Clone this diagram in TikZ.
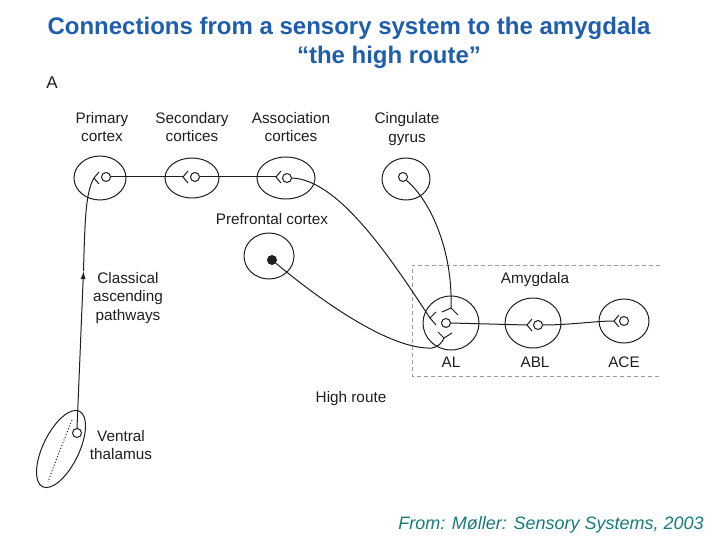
\documentclass[tikz,border=0pt]{standalone}
\usepackage{fontspec}
\setmainfont{Liberation Sans}
\usetikzlibrary{arrows.meta}
\definecolor{titleblue}{RGB}{30,94,172}
\definecolor{footteal}{RGB}{22,122,126}
\definecolor{ink}{RGB}{30,30,30}
\begin{document}
\begin{tikzpicture}[x=1pt,y=-1pt,
  lbl/.style={font=\fontsize{15.3}{18.5}\selectfont, text=ink, align=center, inner sep=0},
  region/.style={draw=ink, line width=1pt},
  cell/.style={circle, draw=ink, line width=1pt, minimum size=9pt, inner sep=0},
  fiber/.style={draw=ink, line width=1pt},
  ]
\useasboundingbox (0,0) rectangle (720,540);

% titles
\node[font=\fontsize{24}{28}\selectfont\bfseries, text=titleblue, inner sep=0] (t1) at (349,28) {Connections from a sensory system to the amygdala};
\node[font=\fontsize{24}{28}\selectfont\bfseries, text=titleblue, inner sep=0] (t2) at (389,57) {“the high route”};
\node[font=\fontsize{17}{20}\selectfont, text=ink, inner sep=0] (lA) at (52,83) {A};

% labels
\node[lbl] (lpc) at (102,127) {Primary\\cortex};
\node[lbl] (lsc) at (192,127) {Secondary\\cortices};
\node[lbl] (lac) at (291,127) {Association\\cortices};
\node[lbl] (lcg) at (407,129) {Cingulate\\gyrus};
\node[lbl] (lpf) at (272,219) {Prefrontal cortex};
\node[lbl] (lca) at (128,298) {Classical\\ascending\\pathways};
\node[lbl] (lvt) at (121,445) {Ventral\\thalamus};
\node[lbl] (lam) at (535,280) {Amygdala};
\node[lbl] (lal) at (451,362) {AL};
\node[lbl] (lab) at (535,362) {ABL};
\node[lbl] (lae) at (624,362) {ACE};
\node[lbl] (lhr) at (351,399) {High route};

% amygdala box
\draw[gray!80, line width=0.8pt, dash pattern=on 4pt off 3pt] (660,265) -- (412,265) -- (412,376) -- (660,376);

% regions
\draw[region] (100,178) ellipse [x radius=26, y radius=22];
\draw[region] (192,178) ellipse [x radius=27, y radius=20];
\draw[region] (286,178) ellipse [x radius=29, y radius=21];
\draw[region] (406,179) ellipse [x radius=24, y radius=21];
\draw[region] (269,256) ellipse [x radius=25, y radius=23];
\draw[region] (451,323) ellipse [x radius=28, y radius=27];
\draw[region] (533,323) ellipse [x radius=28, y radius=25];
\draw[region] (624,321) ellipse [x radius=25, y radius=22];
\draw[region, rotate around={64:(61,449)}] (61,449) ellipse [x radius=42, y radius=18];
\draw[ink, dotted, line width=1pt] (72,420) .. controls (62,445) and (54,465) .. (48,482);

% cells
\node[cell] (pc) at (106,177) {};
\node[cell] (sc) at (195,177) {};
\node[cell] (ac) at (287,178) {};
\node[cell] (cc) at (403,177) {};
\node[circle, fill=ink, minimum size=10pt, inner sep=0] (pf) at (272,260) {};
\node[cell] (alc) at (446,323) {};
\node[cell] (bc) at (538,325) {};
\node[cell] (ec) at (624,321) {};
\node[cell] (tc) at (77,433) {};

% synapse vertices
\coordinate (pv) at (94,178);
\coordinate (sv) at (183,177);
\coordinate (av) at (276,177);
\coordinate (bv) at (527,325);
\coordinate (ev) at (614,321);
\coordinate (alt) at (451,308);
\coordinate (alv) at (430,318);
\coordinate (alb) at (444,338);
\coordinate (arr) at (83.5,271);

% synapse forks
\foreach \v in {pv,sv,av,bv,ev}{
  \draw[fiber] (\v) ++(5,-6) -- (\v) -- ++(5,6);
}
\draw[fiber] (442,312) -- (alt) -- (458,315);
\draw[fiber] (436,312) -- (alv) -- (436,325);
\draw[fiber] (438,332) -- (alb) -- (452,333);

% connectors
\draw[fiber, -{Latex[length=8pt,width=5pt]}] (tc.north) -- (arr);
\draw[fiber] (arr) .. controls (85,215) and (86,192) .. (pv);
\draw[fiber] (pc.east) -- (sv);
\draw[fiber] (sc.east) -- (av);
\draw[fiber] (ac.east) .. controls (340,180) and (393,262) .. (alv);
\draw[fiber] (cc.south east) .. controls (430,200) and (453,250) .. (alt);
\draw[fiber] (pf) .. controls (320,300) and (390,350) .. (432,348) .. controls (438,347) and (442,343) .. (alb);
\draw[fiber] (alc.east) -- (bv);
\draw[fiber] (bc.east) .. controls (570,325) and (595,321) .. (ev);

% footer
\node[font=\fontsize{18}{20}\selectfont\itshape, text=footteal, inner sep=0] (ft) at (551,525) {From: Møller: Sensory Systems, 2003};
\end{tikzpicture}
\end{document}
